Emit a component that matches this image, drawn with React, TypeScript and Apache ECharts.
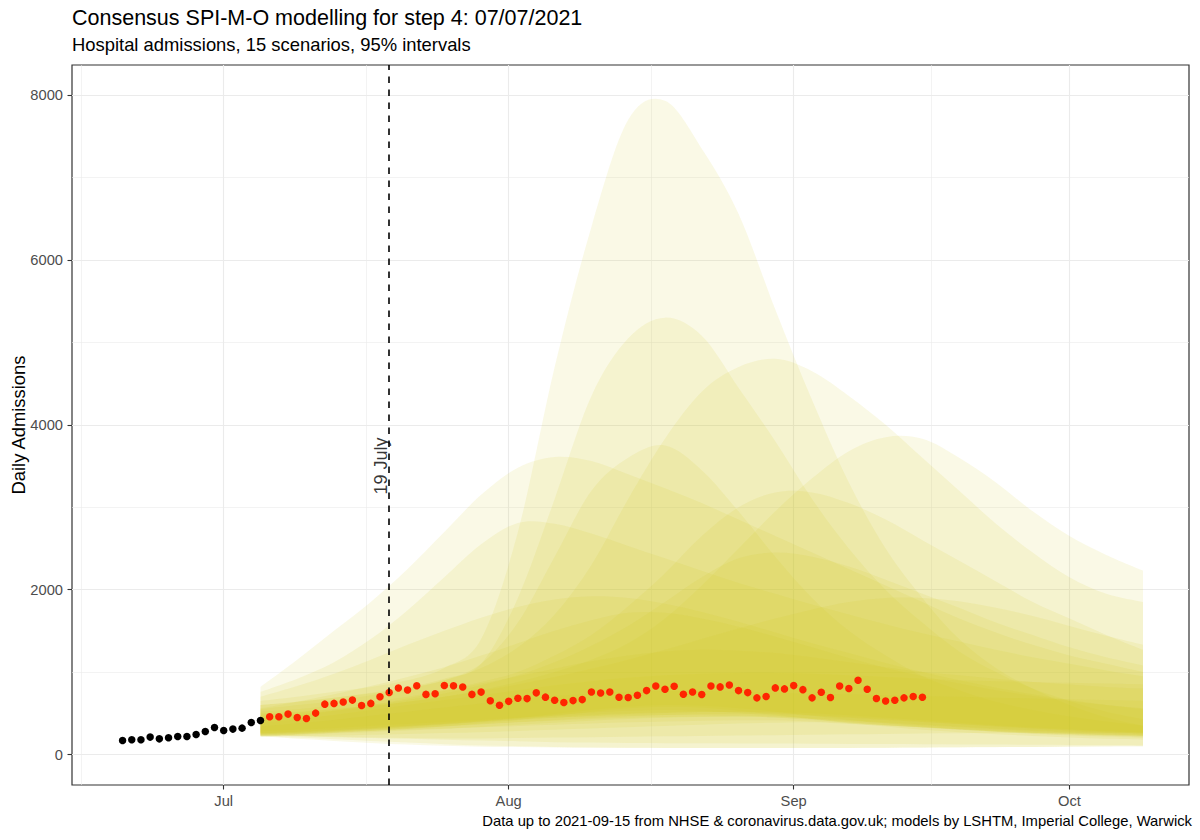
import React, { useEffect, useRef } from "react";
import * as echarts from "echarts";

const FONT = "'Liberation Sans', Arial, Helvetica, sans-serif";

const TITLE = "Consensus SPI-M-O modelling for step 4: 07/07/2021";
const SUBTITLE = "Hospital admissions, 15 scenarios, 95% intervals";
const CAPTION =
  "Data up to 2021-09-15 from NHSE & coronavirus.data.gov.uk; models by LSHTM, Imperial College, Warwick";
const Y_NAME = "Daily Admissions";
const VLINE_DATE = "2021-07-19";
const VLINE_LABEL = "19 July";
const VLINE_LABEL_Y = 3500;

// x positions are days since 1 July 2021
const ORIGIN = "2021-07-01";
const dayOf = (iso: string) =>
  (Date.parse(iso + "T00:00:00Z") - Date.parse(ORIGIN + "T00:00:00Z")) / 86400000;

const X_TICK_DATES = ["2021-07-01", "2021-08-01", "2021-09-01", "2021-10-01"];
const X_TICK_LABELS = ["Jul", "Aug", "Sep", "Oct"];
const X_MINOR_DAYS = [-15.5, 15.5, 46.5, 77];
const Y_TICKS = [0, 2000, 4000, 6000, 8000];
const Y_MINOR = [1000, 3000, 5000, 7000];

// observed admissions (one per day from the start date)
const BLACK_START = "2021-06-20";
const BLACK_VALUES = [170, 178, 178, 211, 190, 203, 219, 219, 243, 279, 328, 291, 308, 320, 389, 413];
const RED_START = "2021-07-06";
const RED_VALUES = [
  458, 458, 490, 449, 437, 502, 611, 620, 636, 660, 595, 620, 700, 753, 806, 782, 834, 729, 737, 838,
  834, 818, 729, 757, 652, 598,
  645, 683, 678, 748, 696, 658, 630, 654, 666, 759, 747, 759, 695, 691, 719, 775, 832, 792, 828, 731,
  759, 727, 832, 820, 844, 775, 751, 687, 703, 808, 796,
  836, 787, 687, 755, 691, 832, 800, 901, 792, 679, 650, 658, 687, 703, 695,
];

// scenario ribbons (95% intervals)
const RIBBON_DATES = [
  "2021-07-05", "2021-07-09", "2021-07-13", "2021-07-17", "2021-07-21", "2021-07-25", "2021-07-29",
  "2021-08-02", "2021-08-06", "2021-08-10", "2021-08-14", "2021-08-18", "2021-08-22", "2021-08-26",
  "2021-08-30", "2021-09-03", "2021-09-07", "2021-09-11", "2021-09-15", "2021-09-19", "2021-09-23",
  "2021-09-27", "2021-10-01", "2021-10-05", "2021-10-09",
];

const S01_HI = [650, 700, 760, 820, 900, 1050, 1400, 2700, 4700, 6400, 7700, 7930, 7350, 6560, 5400, 4300, 3300, 2500, 1900, 1400, 1050, 800, 600, 450, 350];
const S01_LO = [240, 250, 265, 285, 310, 340, 380, 420, 470, 520, 560, 580, 570, 530, 480, 430, 380, 340, 300, 270, 245, 225, 205, 190, 180];
const S02_HI = [600, 640, 690, 750, 820, 920, 1100, 1900, 3100, 4350, 5050, 5300, 5080, 4450, 3800, 3100, 2500, 2000, 1600, 1250, 1000, 800, 650, 520, 430];
const S02_LO = [250, 265, 285, 305, 330, 360, 400, 440, 490, 540, 580, 600, 590, 560, 520, 470, 420, 380, 340, 305, 275, 250, 230, 215, 200];
const S03_HI = [550, 600, 650, 720, 800, 900, 1050, 1300, 1700, 2300, 3100, 3830, 4400, 4700, 4800, 4650, 4350, 4000, 3600, 3200, 2800, 2450, 2150, 1950, 1850];
const S03_LO = [230, 240, 255, 270, 290, 310, 335, 360, 385, 410, 430, 445, 455, 460, 450, 420, 390, 360, 330, 300, 275, 255, 240, 225, 215];
const S04_HI = [500, 520, 550, 590, 640, 700, 780, 880, 1000, 1150, 1350, 1650, 2050, 2500, 2950, 3350, 3680, 3850, 3830, 3600, 3300, 2950, 2650, 2420, 2230];
const S04_LO = [220, 225, 230, 240, 250, 260, 270, 285, 300, 315, 330, 345, 360, 375, 385, 390, 370, 350, 330, 310, 290, 270, 255, 240, 230];
const S05_HI = [820, 1150, 1500, 1850, 2250, 2700, 3150, 3480, 3610, 3560, 3400, 3230, 3050, 2850, 2650, 2450, 2250, 2050, 1850, 1650, 1480, 1330, 1200, 1100, 1000];
const S05_LO = [225, 205, 185, 165, 145, 125, 110, 100, 92, 86, 82, 80, 80, 80, 80, 80, 80, 80, 82, 85, 88, 92, 96, 100, 100];
const S06_HI = [760, 920, 1120, 1400, 1750, 2150, 2550, 2810, 2800, 2680, 2530, 2380, 2230, 2080, 1950, 1820, 1700, 1580, 1470, 1370, 1270, 1180, 1100, 1020, 950];
const S06_LO = [235, 225, 215, 205, 200, 195, 195, 200, 205, 210, 215, 220, 225, 230, 235, 240, 245, 250, 255, 258, 260, 262, 263, 263, 263];
const S07_HI = [600, 640, 690, 740, 800, 900, 1100, 1600, 2400, 3200, 3600, 3750, 3450, 2950, 2400, 1900, 1500, 1200, 950, 780, 640, 540, 460, 400, 350];
const S07_LO = [260, 280, 300, 325, 350, 380, 410, 445, 480, 510, 530, 540, 530, 505, 470, 430, 390, 355, 325, 300, 280, 262, 248, 236, 225];
const S08_HI = [520, 550, 590, 640, 700, 780, 880, 1000, 1200, 1450, 1800, 2200, 2650, 3000, 3180, 3180, 3050, 2850, 2600, 2350, 2100, 1850, 1650, 1450, 1270];
const S08_LO = [250, 265, 280, 300, 320, 345, 370, 395, 420, 445, 465, 480, 490, 495, 490, 470, 445, 420, 395, 370, 345, 320, 300, 280, 265];
const S09_HI = [480, 510, 550, 600, 660, 740, 840, 960, 1120, 1320, 1560, 1850, 2150, 2380, 2450, 2400, 2280, 2120, 1950, 1780, 1600, 1450, 1300, 1180, 1080];
const S09_LO = [260, 275, 295, 320, 345, 370, 395, 420, 445, 470, 490, 505, 515, 520, 515, 500, 475, 445, 415, 385, 355, 330, 305, 285, 270];
const S10_HI = [560, 640, 730, 830, 940, 1060, 1200, 1350, 1500, 1630, 1720, 1720, 1650, 1550, 1430, 1300, 1170, 1050, 950, 860, 780, 710, 650, 600, 560];
const S10_LO = [230, 220, 210, 200, 190, 180, 170, 160, 150, 145, 140, 138, 136, 134, 132, 130, 128, 126, 124, 122, 120, 118, 116, 114, 112];
const S11_HI = [420, 470, 530, 600, 680, 770, 860, 950, 1040, 1130, 1200, 1250, 1270, 1260, 1230, 1180, 1120, 1060, 1000, 960, 920, 880, 850, 820, 800];
const S11_LO = [280, 300, 320, 345, 370, 395, 420, 445, 465, 485, 500, 510, 515, 515, 505, 480, 455, 430, 400, 370, 340, 315, 290, 270, 255];
const S12_HI = [380, 430, 480, 540, 600, 660, 720, 780, 840, 890, 930, 960, 980, 990, 990, 980, 960, 940, 920, 900, 890, 880, 870, 860, 850];
const S12_LO = [215, 240, 265, 290, 315, 340, 365, 390, 410, 430, 445, 455, 460, 460, 450, 430, 405, 380, 355, 330, 305, 285, 265, 250, 235];
const S13_HI = [450, 490, 530, 580, 640, 700, 770, 850, 940, 1040, 1150, 1270, 1400, 1530, 1650, 1760, 1850, 1900, 1900, 1860, 1780, 1680, 1560, 1440, 1330];
const S13_LO = [240, 255, 270, 285, 300, 315, 330, 345, 360, 375, 390, 400, 410, 415, 415, 400, 380, 355, 330, 305, 285, 265, 250, 235, 220];
const S14_HI = [340, 380, 420, 470, 520, 570, 620, 670, 710, 740, 760, 770, 770, 760, 750, 740, 730, 720, 710, 700, 690, 680, 670, 660, 650];
const S14_LO = [220, 250, 280, 310, 340, 370, 400, 430, 450, 465, 475, 480, 480, 475, 460, 440, 415, 390, 365, 340, 315, 295, 275, 260, 245];
const S15_HI = [700, 830, 980, 1150, 1330, 1500, 1660, 1790, 1880, 1920, 1900, 1830, 1730, 1610, 1480, 1350, 1230, 1110, 1000, 900, 810, 730, 660, 600, 550];
const S15_LO = [220, 190, 165, 140, 120, 105, 95, 90, 85, 82, 80, 80, 80, 80, 80, 80, 80, 82, 85, 88, 90, 92, 95, 98, 100];

const RIBBONS: [number[], number[]][] = [
  [S01_LO, S01_HI], [S02_LO, S02_HI], [S03_LO, S03_HI], [S04_LO, S04_HI], [S05_LO, S05_HI],
  [S06_LO, S06_HI], [S07_LO, S07_HI], [S08_LO, S08_HI], [S09_LO, S09_HI], [S10_LO, S10_HI],
  [S11_LO, S11_HI], [S12_LO, S12_HI], [S13_LO, S13_HI], [S14_LO, S14_HI], [S15_LO, S15_HI],
];

const RIBBON_FILL = "rgb(205,200,25)";
const RIBBON_ALPHA = 0.11;

// Catmull-Rom through pixel points -> cubic Bezier path commands
function curveThrough(p: number[][], start: "M" | "L"): string {
  const n = p.length;
  let d = `${start}${p[0][0].toFixed(2)},${p[0][1].toFixed(2)}`;
  for (let i = 0; i < n - 1; i++) {
    const p0 = p[Math.max(0, i - 1)];
    const p1 = p[i];
    const p2 = p[i + 1];
    const p3 = p[Math.min(n - 1, i + 2)];
    const c1x = p1[0] + (p2[0] - p0[0]) / 6;
    const c1y = p1[1] + (p2[1] - p0[1]) / 6;
    const c2x = p2[0] - (p3[0] - p1[0]) / 6;
    const c2y = p2[1] - (p3[1] - p1[1]) / 6;
    d += `C${c1x.toFixed(2)},${c1y.toFixed(2)} ${c2x.toFixed(2)},${c2y.toFixed(2)} ${p2[0].toFixed(2)},${p2[1].toFixed(2)}`;
  }
  return d;
}

function buildOption() {
  const ribbonDays = RIBBON_DATES.map(dayOf);
  const series: any[] = [];

  series.push({
    type: "custom",
    name: "scenarios",
    silent: true,
    clip: true,
    z: 1,
    data: RIBBONS.map(([lo], k) => [ribbonDays[0], lo[0], k]),
    renderItem: (params: any, api: any) => {
      const [lo, hi] = RIBBONS[params.dataIndex];
      const up = ribbonDays.map((d, i) => api.coord([d, hi[i]]));
      const dn = ribbonDays.map((d, i) => api.coord([d, lo[i]])).reverse();
      const pathData = curveThrough(up, "M") + curveThrough(dn, "L") + "Z";
      return {
        type: "path",
        shape: { pathData },
        style: { fill: RIBBON_FILL, opacity: RIBBON_ALPHA, stroke: "none" },
      };
    },
  });

  const b0 = dayOf(BLACK_START);
  const r0 = dayOf(RED_START);
  series.push({
    type: "scatter",
    data: BLACK_VALUES.map((v, i) => [b0 + i, v]),
    symbolSize: 7.5,
    itemStyle: { color: "#000000", opacity: 1 },
    silent: true,
    z: 3,
  });
  series.push({
    type: "scatter",
    data: RED_VALUES.map((v, i) => [r0 + i, v]),
    symbolSize: 7.5,
    itemStyle: { color: "#ff2500", opacity: 1 },
    silent: true,
    z: 3,
  });
  series.push({
    type: "scatter",
    data: [[dayOf(VLINE_DATE), VLINE_LABEL_Y]],
    symbolSize: 1,
    itemStyle: { color: "rgba(0,0,0,0)" },
    silent: true,
    z: 5,
    label: {
      show: true,
      formatter: VLINE_LABEL,
      rotate: 90,
      position: "inside",
      offset: [0, -8],
      fontSize: 18,
      fontFamily: FONT,
      color: "#000000",
    },
    markLine: {
      silent: true,
      symbol: ["none", "none"],
      label: { show: false },
      lineStyle: { color: "#000000", type: [6.5, 6.5], width: 1.6 },
      data: [{ xAxis: dayOf(VLINE_DATE) }],
      z: 5,
    },
  });

  const X_MIN = -16.5;
  const X_MAX = 105;
  const Y_MIN = -370;
  const Y_MAX = 8365;
  const tickDays = X_TICK_DATES.map(dayOf);

  return {
    animation: false,
    backgroundColor: "#ffffff",
    textStyle: { fontFamily: FONT },
    grid: {
      left: 72,
      right: 11,
      top: 65,
      bottom: 55,
      show: true,
      borderColor: "#333333",
      borderWidth: 1.2,
      backgroundColor: "#ffffff",
      containLabel: false,
      outerBoundsMode: "none",
      z: 0,
    },
    xAxis: [
      {
        type: "value",
        min: X_MIN,
        max: X_MAX,
        axisLine: { show: false, onZero: false },
        axisTick: {
          show: true,
          length: 4.5,
          lineStyle: { color: "#333333", width: 1.1 },
          customValues: tickDays,
        },
        axisLabel: {
          customValues: tickDays,
          formatter: (v: number) => {
            const i = tickDays.indexOf(v);
            return i >= 0 ? X_TICK_LABELS[i] : "";
          },
          color: "#4d4d4d",
          fontSize: 14.7,
          fontFamily: FONT,
          margin: 8,
        },
        splitLine: { show: true, lineStyle: { color: "#ebebeb", width: 1.1 } },
      },
      {
        type: "value",
        min: X_MIN,
        max: X_MAX,
        position: "bottom",
        axisLine: { show: false, onZero: false },
        axisTick: { show: false, customValues: X_MINOR_DAYS },
        axisLabel: { show: false, customValues: X_MINOR_DAYS },
        splitLine: { show: true, lineStyle: { color: "#ebebeb", width: 0.6 } },
      },
    ],
    yAxis: [
      {
        type: "value",
        min: Y_MIN,
        max: Y_MAX,
        name: Y_NAME,
        nameLocation: "middle",
        nameRotate: 90,
        nameGap: 45,
        nameMoveOverlap: false,
        nameTextStyle: { color: "#000000", fontSize: 18.4, fontFamily: FONT },
        axisLine: { show: false, onZero: false },
        axisTick: {
          show: true,
          length: 4.5,
          lineStyle: { color: "#333333", width: 1.1 },
          customValues: Y_TICKS,
        },
        axisLabel: {
          customValues: Y_TICKS,
          formatter: (v: number) => String(v),
          color: "#4d4d4d",
          fontSize: 14.7,
          fontFamily: FONT,
          margin: 9,
        },
        splitLine: { show: true, lineStyle: { color: "#ebebeb", width: 1.1 } },
      },
      {
        type: "value",
        min: Y_MIN,
        max: Y_MAX,
        position: "left",
        axisLine: { show: false, onZero: false },
        axisTick: { show: false, customValues: Y_MINOR },
        axisLabel: { show: false, customValues: Y_MINOR },
        splitLine: { show: true, lineStyle: { color: "#ebebeb", width: 0.6 } },
      },
    ],
    graphic: [
      {
        type: "text",
        x: 72,
        y: 18,
        style: {
          text: TITLE,
          fontSize: 21.5,
          fontFamily: FONT,
          fill: "#000000",
          align: "left",
          verticalAlign: "middle",
          textAlign: "left",
          textVerticalAlign: "middle",
        },
      },
      {
        type: "text",
        x: 72,
        y: 44.5,
        style: {
          text: SUBTITLE,
          fontSize: 18.4,
          fontFamily: FONT,
          fill: "#000000",
          align: "left",
          verticalAlign: "middle",
          textAlign: "left",
          textVerticalAlign: "middle",
        },
      },
      {
        type: "text",
        x: 1192,
        y: 821,
        style: {
          text: CAPTION,
          fontSize: 14.8,
          fontFamily: FONT,
          fill: "#000000",
          align: "right",
          verticalAlign: "middle",
          textAlign: "right",
          textVerticalAlign: "middle",
        },
      },
    ],
    series,
  };
}

export default function App() {
  const ref = useRef<HTMLDivElement>(null);
  useEffect(() => {
    if (!ref.current) return;
    const chart = echarts.init(ref.current, undefined, { renderer: "svg" });
    chart.setOption(buildOption() as any);
    return () => chart.dispose();
  }, []);
  return (
    <div
      ref={ref}
      style={{ position: "fixed", left: 0, top: 0, width: 1200, height: 840, background: "#ffffff" }}
    />
  );
}
